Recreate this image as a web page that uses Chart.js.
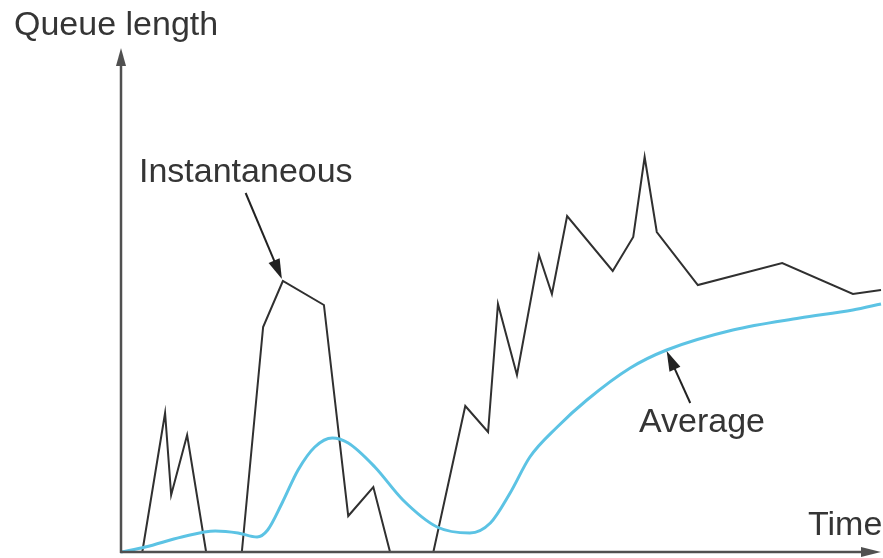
<!DOCTYPE html>
<html>
<head>
<meta charset="utf-8">
<script src="https://cdn.jsdelivr.net/npm/chart.js@4.4.1/dist/chart.umd.min.js"></script>
<style>
  html, body { margin: 0; padding: 0; background: #fff; }
  #wrap { width: 883px; height: 558px; }
</style>
</head>
<body>
<div id="wrap"><canvas id="queueChart" width="883" height="558"></canvas></div>
<script>
// time runs 0..100, queue length 0..100 (arbitrary units)
const instTime = [0, 2.8, 5.8, 6.6, 8.7, 11.2, 15.9, 18.7, 21.3, 26.7, 29.9, 33.2, 35.4, 41.1, 45.3, 48.3, 49.6, 52.1, 55, 56.7, 58.7, 64.7, 67.4, 68.9, 70.5, 75.9, 87, 96.3, 100];
const instQueue = [0, 0, 27.8, 11.4, 23.4, 0, 0, 45, 54.2, 49.4, 7.2, 13, 0, 0, 29.2, 24, 49.6, 35.4, 59.4, 51.6, 67.2, 56.2, 63, 79, 64, 53.4, 57.8, 51.6, 52.4];

const avgTime = [0, 3.2, 8, 12.4, 15.4, 17.9, 19.3, 21.2, 23.3, 25.5, 27.8, 29.9, 33.4, 37.1, 41.6, 45.9, 48.6, 51.2, 53.8, 57.4, 61.3, 67, 71.8, 80.5, 89.3, 96.3, 100];
const avgQueue = [0, 1, 3, 4.2, 3.8, 3, 4.4, 9.8, 16.4, 21, 22.8, 21.8, 17, 10.4, 5, 3.8, 5.8, 11.8, 19, 25, 30.4, 36.8, 40.4, 44.4, 46.8, 48.4, 49.6];

const labels = ["Queue length", "Time", "Instantaneous", "Average"];

const toPoints = (xs, ys) => xs.map((x, i) => ({ x: x, y: ys[i] }));

const TEXT = "#353535";
const AXIS = "#505050";
const FONT = "34px 'Liberation Sans', Arial, sans-serif";

function arrowHead(ctx, x1, y1, x2, y2, len, half) {
  const a = Math.atan2(y2 - y1, x2 - x1);
  ctx.beginPath();
  ctx.moveTo(x2, y2);
  ctx.lineTo(x2 - len * Math.cos(a) + half * Math.sin(a), y2 - len * Math.sin(a) - half * Math.cos(a));
  ctx.lineTo(x2 - len * Math.cos(a) - half * Math.sin(a), y2 - len * Math.sin(a) + half * Math.cos(a));
  ctx.closePath();
  ctx.fill();
}

function arrow(ctx, x1, y1, x2, y2, len, half) {
  const a = Math.atan2(y2 - y1, x2 - x1);
  ctx.beginPath();
  ctx.moveTo(x1, y1);
  ctx.lineTo(x2 - (len - 2) * Math.cos(a), y2 - (len - 2) * Math.sin(a));
  ctx.stroke();
  arrowHead(ctx, x1, y1, x2, y2, len, half);
}

const sketchPlugin = {
  id: "sketch",
  afterDatasetsDraw(chart) {
    const ctx = chart.ctx;
    const xs = chart.scales.x;
    const ys = chart.scales.y;
    const x0 = xs.getPixelForValue(0);
    const y0 = ys.getPixelForValue(0);

    ctx.save();
    ctx.strokeStyle = AXIS;
    ctx.fillStyle = AXIS;
    ctx.lineWidth = 2.5;
    // axes with arrow heads
    arrow(ctx, x0, y0 + 1, x0, 48, 18, 5);
    arrow(ctx, x0 - 1, y0, 881, y0, 20, 5);

    // pointer arrows
    ctx.strokeStyle = "#222";
    ctx.fillStyle = "#222";
    ctx.lineWidth = 2;
    arrow(ctx, xs.getPixelForValue(16.4), ys.getPixelForValue(71.8),
      xs.getPixelForValue(instTime[8]) - 1, ys.getPixelForValue(instQueue[8]) - 2, 20, 6);
    arrow(ctx, xs.getPixelForValue(74.9), ys.getPixelForValue(29.8),
      xs.getPixelForValue(71.8), ys.getPixelForValue(40.2), 20, 6);

    // text
    ctx.fillStyle = TEXT;
    ctx.font = FONT;
    ctx.textBaseline = "alphabetic";
    ctx.fillText(labels[0], 14, 35);
    ctx.fillText(labels[1], 808, 535);
    ctx.fillText(labels[2], 139, 182);
    ctx.fillText(labels[3], 639, 432);
    ctx.restore();
  }
};

new Chart(document.getElementById("queueChart"), {
  type: "line",
  data: {
    datasets: [
      {
        label: "Average",
        data: toPoints(avgTime, avgQueue),
        borderColor: "#5cc3e4",
        borderWidth: 3,
        pointRadius: 0,
        cubicInterpolationMode: "monotone",
        fill: false
      },
      {
        label: "Instantaneous",
        data: toPoints(instTime, instQueue),
        borderColor: "#303030",
        borderWidth: 2,
        pointRadius: 0,
        tension: 0,
        borderJoinStyle: "miter",
        fill: false
      }
    ]
  },
  options: {
    responsive: false,
    animation: false,
    devicePixelRatio: 1,
    layout: { padding: { left: 121, right: 2, top: 52, bottom: 6 } },
    plugins: {
      legend: { display: false },
      tooltip: { enabled: false }
    },
    datasets: { line: { clip: false } },
    scales: {
      x: { type: "linear", min: 0, max: 100, display: false },
      y: { type: "linear", min: 0, max: 100, display: false }
    }
  },
  plugins: [sketchPlugin]
});
</script>
</body>
</html>
